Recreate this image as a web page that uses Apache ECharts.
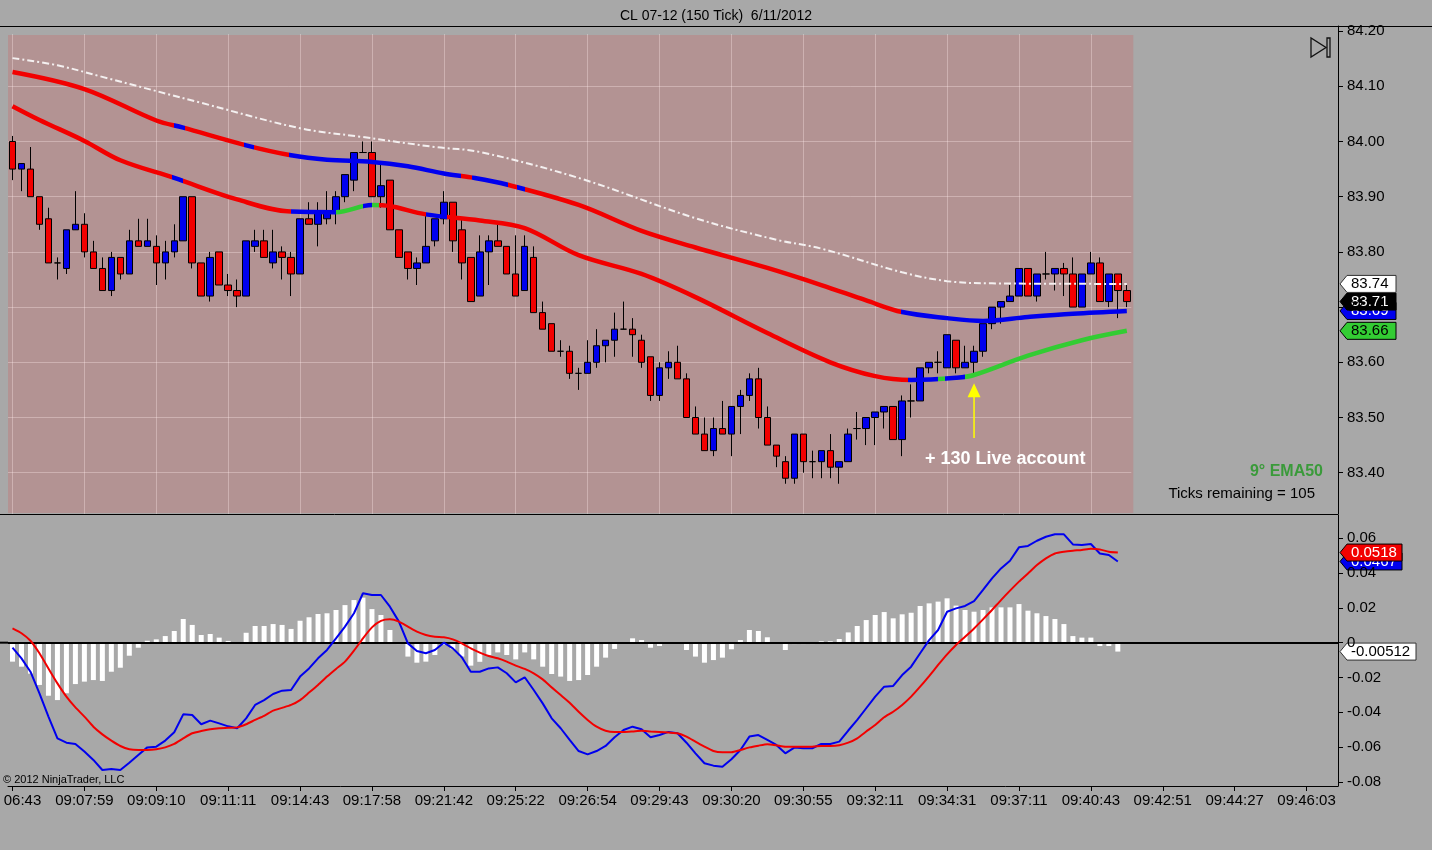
<!DOCTYPE html>
<html><head><meta charset="utf-8">
<script src="https://cdn.jsdelivr.net/npm/echarts@6/dist/echarts.min.js"></script>
<style>html,body{margin:0;padding:0;background:#a8a8a8;}#c{width:1432px;height:850px;}</style>
</head><body><div id="c"></div>
<script>
const FONT = "'Liberation Sans', Arial, sans-serif";

const titleText = 'CL 07-12 (150 Tick)  6/11/2012';
const timeLabels = ['06:43','09:07:59','09:09:10','09:11:11','09:14:43','09:17:58','09:21:42','09:25:22','09:26:54','09:29:43','09:30:20','09:30:55','09:32:11','09:34:31','09:37:11','09:40:43','09:42:51','09:44:27','09:46:03'];
const timeTickIdx = [0,8,16,24,32,40,48,56,64,72,80,88,96,104,112,120,128,136,144];
const priceTicks = [83.4,83.5,83.6,83.7,83.8,83.9,84.0,84.1,84.2];
const macdTicks = [-0.08,-0.06,-0.04,-0.02,0,0.02,0.04,0.06];

// [open, close, low, high]
const ohlc = [
[84.00,83.95,83.93,84.01],[83.95,83.96,83.91,83.96],[83.95,83.90,83.90,83.99],[83.90,83.85,83.84,83.90],[83.86,83.78,83.78,83.88],
[83.78,83.78,83.75,83.79],[83.77,83.84,83.76,83.84],[83.84,83.85,83.84,83.91],[83.85,83.80,83.79,83.87],[83.80,83.77,83.77,83.82],
[83.77,83.73,83.73,83.79],[83.73,83.79,83.72,83.80],[83.79,83.76,83.75,83.79],[83.76,83.82,83.76,83.84],[83.82,83.81,83.81,83.86],
[83.81,83.82,83.81,83.86],[83.81,83.78,83.74,83.83],[83.78,83.80,83.75,83.82],[83.80,83.82,83.79,83.85],[83.82,83.90,83.82,83.90],
[83.90,83.78,83.77,83.90],[83.78,83.72,83.72,83.78],[83.72,83.79,83.71,83.80],[83.80,83.74,83.74,83.80],[83.74,83.73,83.72,83.76],
[83.73,83.72,83.70,83.75],[83.72,83.82,83.72,83.82],[83.81,83.82,83.80,83.84],[83.82,83.79,83.79,83.84],[83.78,83.80,83.77,83.84],
[83.80,83.79,83.75,83.81],[83.79,83.76,83.72,83.80],[83.76,83.86,83.76,83.86],[83.86,83.85,83.85,83.89],[83.85,83.87,83.81,83.89],
[83.86,83.87,83.85,83.91],[83.87,83.90,83.85,83.91],[83.90,83.94,83.89,83.94],[83.93,83.98,83.91,83.98],[83.98,83.98,83.98,84.00],
[83.98,83.90,83.90,84.00],[83.90,83.92,83.88,83.96],[83.93,83.84,83.84,83.93],[83.84,83.79,83.79,83.84],[83.80,83.77,83.75,83.80],
[83.77,83.78,83.74,83.79],[83.78,83.81,83.78,83.87],[83.82,83.86,83.81,83.86],[83.86,83.89,83.85,83.91],[83.89,83.82,83.80,83.89],
[83.84,83.78,83.75,83.86],[83.79,83.71,83.71,83.79],[83.72,83.80,83.72,83.83],[83.80,83.82,83.74,83.83],[83.82,83.81,83.81,83.85],
[83.81,83.76,83.76,83.81],[83.76,83.72,83.72,83.83],[83.73,83.81,83.73,83.83],[83.79,83.69,83.69,83.81],[83.69,83.66,83.66,83.71],
[83.67,83.62,83.62,83.67],[83.62,83.62,83.61,83.64],[83.62,83.58,83.57,83.63],[83.58,83.58,83.55,83.59],[83.58,83.60,83.58,83.64],
[83.60,83.63,83.59,83.66],[83.63,83.64,83.60,83.64],[83.64,83.66,83.61,83.69],[83.66,83.66,83.66,83.71],[83.66,83.65,83.61,83.68],
[83.64,83.60,83.59,83.65],[83.61,83.54,83.53,83.61],[83.54,83.59,83.53,83.60],[83.59,83.60,83.57,83.62],[83.60,83.57,83.57,83.63],
[83.57,83.50,83.50,83.58],[83.50,83.47,83.47,83.52],[83.47,83.44,83.44,83.50],[83.44,83.48,83.43,83.50],[83.48,83.47,83.47,83.53],
[83.47,83.52,83.43,83.52],[83.52,83.54,83.47,83.55],[83.54,83.57,83.53,83.58],[83.57,83.50,83.48,83.59],[83.50,83.45,83.45,83.52],
[83.45,83.43,83.41,83.45],[83.42,83.39,83.38,83.43],[83.39,83.47,83.38,83.47],[83.47,83.42,83.40,83.47],[83.42,83.42,83.39,83.44],
[83.42,83.44,83.39,83.44],[83.44,83.41,83.39,83.47],[83.41,83.42,83.38,83.42],[83.42,83.47,83.42,83.48],[83.48,83.48,83.46,83.51],
[83.48,83.50,83.45,83.50],[83.50,83.51,83.45,83.51],[83.51,83.52,83.48,83.52],[83.52,83.46,83.46,83.52],[83.46,83.53,83.43,83.54],
[83.53,83.53,83.50,83.56],[83.53,83.59,83.53,83.59],[83.59,83.60,83.58,83.60],[83.60,83.60,83.58,83.62],[83.59,83.65,83.59,83.65],
[83.64,83.59,83.58,83.64],[83.59,83.60,83.59,83.63],[83.60,83.62,83.58,83.63],[83.62,83.67,83.61,83.67],[83.67,83.70,83.66,83.70],
[83.70,83.71,83.67,83.71],[83.71,83.72,83.71,83.74],[83.72,83.77,83.72,83.77],[83.77,83.72,83.72,83.77],[83.72,83.76,83.71,83.76],
[83.76,83.76,83.75,83.80],[83.76,83.77,83.73,83.77],[83.77,83.76,83.72,83.78],[83.76,83.70,83.70,83.79],[83.70,83.76,83.70,83.76],
[83.76,83.78,83.76,83.80],[83.78,83.71,83.71,83.79],[83.71,83.76,83.70,83.76],[83.76,83.73,83.68,83.76],[83.73,83.71,83.70,83.74]
];

// moving averages read at sampled bars: [barIndex, value]
const emaUpper = [[0,84.126],[8,84.095],[16,84.038],[19,84.025],[26,83.993],[31,83.975],[35,83.967],[40,83.963],[44,83.955],[48,83.942],[51,83.935],[55,83.922],[63,83.885],[70,83.838],[76,83.808],[84,83.771],[90,83.740],[95,83.712],[99,83.691],[104,83.680],[108,83.675],[113,83.682],[118,83.688],[124,83.693]];
const emaLower = [[0,84.064],[3,84.039],[8,84.001],[12,83.966],[18,83.934],[25,83.895],[31,83.873],[36,83.872],[40,83.885],[42,83.883],[46,83.868],[52,83.857],[57,83.843],[63,83.794],[70,83.760],[76,83.718],[84,83.653],[91,83.600],[96,83.575],[100,83.568],[105,83.572],[107,83.577],[113,83.612],[119,83.640],[124,83.657]];
const smaWhite = [[0,84.151],[5,84.138],[10,84.117],[21,84.070],[32,84.024],[39,84.008],[47,83.990],[52,83.981],[63,83.934],[76,83.861],[85,83.822],[90,83.806],[99,83.763],[104,83.747],[109,83.743],[124,83.742]];
// colour state changes: [fromBar, state]  d = falling, u = rising, g = turn signal
const upperStates = [[0,'d'],[18,'u'],[19.2,'d'],[25.8,'u'],[26.9,'d'],[30.8,'u'],[49.9,'d'],[51.1,'u'],[55.1,'d'],[56.1,'u'],[57,'d'],[98.9,'u']];
const lowerStates = [[0,'d'],[17.8,'u'],[19,'d'],[31,'u'],[36,'g'],[39,'u'],[40,'g'],[40.8,'d'],[46,'u'],[48.3,'d'],[99.7,'u'],[103,'g'],[103.8,'u'],[106,'g']];

const macdLine = [-0.0029,-0.0090,-0.0167,-0.0291,-0.0425,-0.0550,-0.0575,-0.0582,-0.0626,-0.0674,
-0.0732,-0.0726,-0.0732,-0.0690,-0.0646,-0.0602,-0.0598,-0.0563,-0.0515,-0.0412,
-0.0416,-0.0469,-0.0448,-0.0464,-0.0481,-0.0492,-0.0435,-0.0358,-0.0330,-0.0295,
-0.0276,-0.0272,-0.0195,-0.0148,-0.0090,-0.0042,0.0025,0.0092,0.0169,0.0284,
0.0274,0.0274,0.0207,0.0121,-0.0004,-0.0048,-0.0061,-0.0042,0.0000,-0.0033,
-0.0084,-0.0167,-0.0167,-0.0148,-0.0142,-0.0176,-0.0228,-0.0199,-0.0272,-0.0349,
-0.0435,-0.0492,-0.0559,-0.0623,-0.0642,-0.0623,-0.0594,-0.0544,-0.0502,-0.0483,
-0.0498,-0.0544,-0.0531,-0.0513,-0.0521,-0.0575,-0.0636,-0.0693,-0.0707,-0.0713,
-0.0670,-0.0617,-0.0540,-0.0531,-0.0559,-0.0588,-0.0636,-0.0603,-0.0607,-0.0607,
-0.0582,-0.0582,-0.0569,-0.0505,-0.0444,-0.0377,-0.0310,-0.0253,-0.0249,-0.0186,
-0.0138,-0.0061,0.0015,0.0073,0.0178,0.0197,0.0211,0.0239,0.0303,0.0370,
0.0427,0.0471,0.0548,0.0556,0.0586,0.0609,0.0623,0.0623,0.0565,0.0561,
0.0567,0.0513,0.0504,0.0467];
const signalLine = [0.0082,0.0054,0.0011,-0.0061,-0.0148,-0.0234,-0.0310,-0.0372,-0.0425,-0.0483,
-0.0527,-0.0563,-0.0594,-0.0613,-0.0617,-0.0617,-0.0613,-0.0602,-0.0582,-0.0550,
-0.0521,-0.0508,-0.0498,-0.0492,-0.0489,-0.0487,-0.0469,-0.0444,-0.0421,-0.0391,
-0.0375,-0.0358,-0.0330,-0.0287,-0.0243,-0.0195,-0.0151,-0.0109,-0.0046,0.0025,
0.0088,0.0125,0.0134,0.0121,0.0092,0.0063,0.0044,0.0034,0.0031,0.0019,
-0.0004,-0.0033,-0.0057,-0.0077,-0.0090,-0.0109,-0.0132,-0.0151,-0.0176,-0.0211,
-0.0257,-0.0301,-0.0345,-0.0397,-0.0444,-0.0483,-0.0506,-0.0513,-0.0513,-0.0510,
-0.0506,-0.0510,-0.0513,-0.0517,-0.0521,-0.0540,-0.0569,-0.0598,-0.0623,-0.0630,
-0.0630,-0.0617,-0.0602,-0.0592,-0.0584,-0.0590,-0.0598,-0.0598,-0.0598,-0.0598,
-0.0594,-0.0594,-0.0590,-0.0575,-0.0550,-0.0511,-0.0473,-0.0429,-0.0397,-0.0358,
-0.0310,-0.0253,-0.0192,-0.0128,-0.0067,-0.0013,0.0034,0.0082,0.0134,0.0188,
0.0245,0.0299,0.0351,0.0398,0.0446,0.0485,0.0513,0.0523,0.0529,0.0533,
0.0540,0.0536,0.0523,0.0518];
const macdHist = [-0.0109,-0.0138,-0.0178,-0.0243,-0.0305,-0.0330,-0.0291,-0.0238,-0.0224,-0.0215,
-0.0220,-0.0167,-0.0144,-0.0075,-0.0029,0.0011,0.0019,0.0038,0.0067,0.0136,
0.0102,0.0044,0.0050,0.0029,0.0010,0.0004,0.0057,0.0096,0.0096,0.0107,
0.0102,0.0079,0.0126,0.0146,0.0165,0.0169,0.0188,0.0216,0.0245,0.0259,
0.0193,0.0159,0.0073,-0.0008,-0.0080,-0.0115,-0.0109,-0.0071,-0.0013,-0.0038,
-0.0080,-0.0132,-0.0110,-0.0071,-0.0056,-0.0071,-0.0096,-0.0056,-0.0096,-0.0138,
-0.0180,-0.0195,-0.0220,-0.0215,-0.0186,-0.0138,-0.0086,-0.0036,0.0004,0.0025,
0.0015,-0.0029,-0.0019,-0.0002,-0.0002,-0.0042,-0.0080,-0.0115,-0.0100,-0.0086,
-0.0038,0.0015,0.0073,0.0067,0.0031,-0.0002,-0.0042,-0.0008,-0.0008,-0.0008,
0.0008,0.0008,0.0021,0.0059,0.0096,0.0130,0.0159,0.0176,0.0140,0.0163,
0.0172,0.0211,0.0226,0.0236,0.0255,0.0213,0.0188,0.0178,0.0188,0.0203,
0.0203,0.0203,0.0222,0.0184,0.0169,0.0153,0.0136,0.0107,0.0038,0.0029,
0.0029,-0.0019,-0.0019,-0.00512];

const tradeBar = 107;
const tradeArrow = [83.463, 83.562];

const RED = '#f20000', BLUE = '#0000ee', GREEN = '#33cc33';
const stateColor = {d: RED, u: BLUE, g: GREEN};
function pieces(states) {
  return states.map((s, k) => ({
    gte: k === 0 ? -100 : s[0],
    lt: k === states.length - 1 ? 1000 : states[k + 1][0],
    color: stateColor[s[1]]
  }));
}

const SLOTS = 148;
const PLOT_L = 8, AXIS_X = 1338;
const step = (AXIS_X - PLOT_L) / SLOTS;
const priceW = ohlc.length * step;

const chart = echarts.init(document.getElementById('c'), null, {renderer: 'canvas'});
const txt = {color: '#000', fontFamily: FONT, fontSize: 15};

chart.setOption({
  backgroundColor: '#a8a8a8',
  animation: false,
  title: {text: titleText, left: 'center', top: 4, textStyle: {color: '#000', fontFamily: FONT, fontSize: 14, fontWeight: 'normal'}},
  grid: [
    {left: PLOT_L, top: 26, width: priceW, height: 488},
    {left: PLOT_L, top: 515, width: AXIS_X - PLOT_L, height: 271}
  ],
  xAxis: [
    {type: 'value', gridIndex: 0, min: -0.5, max: ohlc.length - 0.5,
     axisLine: {show: false, onZero: false}, axisTick: {show: false, customValues: timeTickIdx}, axisLabel: {show: false, customValues: timeTickIdx},
     splitLine: {show: true, lineStyle: {color: 'rgba(255,235,235,0.35)', width: 1}}},
    {type: 'value', gridIndex: 1, min: -0.5, max: SLOTS - 0.5,
     axisLine: {show: true, onZero: false, lineStyle: {color: '#000', width: 1}},
     axisTick: {show: true, length: 5, customValues: timeTickIdx, lineStyle: {color: '#000'}},
     axisLabel: Object.assign({customValues: timeTickIdx, margin: 7,
        formatter: v => { const k = timeTickIdx.indexOf(Math.round(v)); const s = k >= 0 ? timeLabels[k] : ''; return k === 0 ? '{f|' + s + '}' : s; },
        rich: {f: {padding: [0, 0, 0, 20], color: '#000', fontFamily: FONT, fontSize: 15}}}, txt),
     splitLine: {show: false}}
  ],
  yAxis: [
    {type: 'value', gridIndex: 0, position: 'right', offset: AXIS_X - (PLOT_L + priceW), min: 83.3252, max: 84.2092,
     axisLine: {show: true, onZero: false, lineStyle: {color: '#000'}},
     axisTick: {show: true, length: 5, customValues: priceTicks, lineStyle: {color: '#000'}},
     axisLabel: Object.assign({customValues: priceTicks, margin: 9, formatter: v => v.toFixed(2)}, txt),
     splitLine: {show: true, lineStyle: {color: 'rgba(255,235,235,0.35)', width: 1}}},
    {type: 'value', gridIndex: 1, position: 'right', min: -0.0824, max: 0.0734,
     axisLine: {show: true, onZero: false, lineStyle: {color: '#000'}},
     axisTick: {show: true, length: 5, customValues: macdTicks, lineStyle: {color: '#000'}},
     axisLabel: Object.assign({customValues: macdTicks, margin: 9, formatter: v => Math.abs(v) < 1e-9 ? '0' : v.toFixed(2)}, txt),
     splitLine: {show: false}}
  ],
  visualMap: [
    {show: false, type: 'piecewise', seriesIndex: 1, dimension: 0, pieces: pieces(upperStates)},
    {show: false, type: 'piecewise', seriesIndex: 2, dimension: 0, pieces: pieces(lowerStates)}
  ],
  series: [
    {type: 'candlestick', xAxisIndex: 0, yAxisIndex: 0, z: 3,
     data: ohlc.map((r, i) => [i, r[0], r[1], r[2], r[3]]),
     encode: {x: 0, y: [1, 2, 3, 4]},
     barWidth: 7,
     itemStyle: {color: BLUE, color0: RED, borderColor: '#000', borderColor0: '#000', borderColorDoji: '#000', borderWidth: 1}},
    {type: 'line', xAxisIndex: 0, yAxisIndex: 0, z: 5, data: emaUpper, smooth: 0.35, showSymbol: false, symbol: 'none',
     lineStyle: {width: 4.5}},
    {type: 'line', xAxisIndex: 0, yAxisIndex: 0, z: 5, data: emaLower, smooth: 0.35, showSymbol: false, symbol: 'none',
     lineStyle: {width: 4.5}},
    {type: 'line', xAxisIndex: 0, yAxisIndex: 0, z: 4, data: smaWhite, smooth: 0.35, showSymbol: false, symbol: 'none',
     lineStyle: {width: 2, color: '#f4f0f0', type: [7, 3, 2, 3]}},
    {type: 'bar', xAxisIndex: 1, yAxisIndex: 1, z: 3, barWidth: 5,
     data: macdHist.map((v, i) => [i, v]), itemStyle: {color: '#ffffff'},
     markLine: {silent: true, symbol: 'none', label: {show: false}, lineStyle: {color: '#000', width: 2, type: 'solid'}, data: [{yAxis: 0}]}},
    {type: 'line', xAxisIndex: 1, yAxisIndex: 1, z: 5, data: macdLine.map((v, i) => [i, v]), showSymbol: false, symbol: 'none',
     lineStyle: {width: 2, color: BLUE}},
    {type: 'line', xAxisIndex: 1, yAxisIndex: 1, z: 5, data: signalLine.map((v, i) => [i, v]), showSymbol: false, symbol: 'none', smooth: 0.2,
     lineStyle: {width: 2, color: RED}}
  ]
});

// ---- decorations positioned through the chart's own scales ----
function flag(id, yPix, w, text, fill, textFill, stroke) {
  const h = 8.5;
  return {type: 'group', id: id, x: AXIS_X + 2, y: yPix, z: 100, children: [
    {type: 'polygon', shape: {points: [[0, 0], [7, -h], [w, -h], [w, h], [7, h]]}, style: {fill: fill, stroke: stroke, lineWidth: 1}},
    {type: 'text', x: 11, y: 0, style: {text: text, fill: textFill, font: '15px ' + FONT, verticalAlign: 'middle', textAlign: 'left'}}
  ]};
}
const py = v => chart.convertToPixel({yAxisIndex: 0}, v);
const my = v => chart.convertToPixel({yAxisIndex: 1}, v);
const lastClose = ohlc[ohlc.length - 1][1];
const lastUpper = emaUpper[emaUpper.length - 1][1];
const lastLower = emaLower[emaLower.length - 1][1];
const lastWhite = smaWhite[smaWhite.length - 1][1];
const lastMacd = macdLine[macdLine.length - 1];
const lastSig = signalLine[signalLine.length - 1];
const lastHist = macdHist[macdHist.length - 1];

const tip = chart.convertToPixel({gridIndex: 0}, [tradeBar, tradeArrow[1]]);
const tail = chart.convertToPixel({gridIndex: 0}, [tradeBar, tradeArrow[0]]);

const elements = [
  {type: 'rect', id: 'pink', z: -1, shape: {x: PLOT_L, y: 35, width: priceW + 2, height: 478}, style: {fill: '#b39393'}},
  {type: 'rect', id: 'strip', z: 1, shape: {x: 0, y: 27, width: AXIS_X - 1, height: 7}, style: {fill: '#a8a8a8'}},
  {type: 'line', id: 'topline', z: 50, shape: {x1: 0, y1: 26.5, x2: 1432, y2: 26.5}, style: {stroke: '#000', lineWidth: 1}},
  {type: 'line', id: 'midline', z: 50, shape: {x1: 0, y1: 514.5, x2: AXIS_X, y2: 514.5}, style: {stroke: '#000', lineWidth: 1}},
  {type: 'line', id: 'zl', z: 50, shape: {x1: 0, y1: my(0), x2: PLOT_L, y2: my(0)}, style: {stroke: '#000', lineWidth: 2}},
  // play-to-end icon
  {type: 'polygon', id: 'ic1', z: 50, shape: {points: [[1311, 38], [1311, 57], [1326, 47.5]]}, style: {fill: 'none', stroke: '#111', lineWidth: 1.3}},
  {type: 'rect', id: 'ic2', z: 50, shape: {x: 1327, y: 38, width: 3, height: 19}, style: {fill: 'none', stroke: '#111', lineWidth: 1.3}},
  // trade annotation
  {type: 'line', id: 'arrowline', z: 60, shape: {x1: tail[0], y1: tail[1], x2: tip[0], y2: tip[1] + 10}, style: {stroke: '#ffff00', lineWidth: 1.5}},
  {type: 'polygon', id: 'arrowhead', z: 60, shape: {points: [[tip[0], tip[1]], [tip[0] - 6.5, tip[1] + 14], [tip[0] + 6.5, tip[1] + 14]]}, style: {fill: '#ffff00'}},
  {type: 'text', id: 'live', z: 60, x: 925, y: 459, style: {text: '+ 130 Live account', fill: '#ffffff', font: 'bold 18px ' + FONT, verticalAlign: 'middle'}},
  {type: 'text', id: 'ema50', z: 60, x: 1323, y: 472, style: {text: '9° EMA50', fill: '#3a9a3a', font: 'bold 16px ' + FONT, textAlign: 'right', verticalAlign: 'middle'}},
  {type: 'text', id: 'ticks', z: 60, x: 1315, y: 494, style: {text: 'Ticks remaining = 105', fill: '#000', font: '15px ' + FONT, textAlign: 'right', verticalAlign: 'middle'}},
  {type: 'text', id: 'copy', z: 60, x: 3, y: 780, style: {text: '© 2012 NinjaTrader, LLC', fill: '#000', font: '11px ' + FONT, verticalAlign: 'middle'}},
  // value flags
  flag('fBlue', py(lastUpper), 56, lastUpper.toFixed(2), BLUE, '#ffffff', '#000'),
  flag('fBlack', py(lastClose), 56, lastClose.toFixed(2), '#000000', '#ffffff', '#000'),
  flag('fWhite', py(lastWhite), 56, lastWhite.toFixed(2), '#ffffff', '#000000', '#333'),
  flag('fGreen', py(lastLower), 56, lastLower.toFixed(2), GREEN, '#000000', '#000'),
  flag('mBlue', my(lastMacd), 62, lastMacd.toFixed(4), BLUE, '#ffffff', '#000'),
  flag('mRed', my(lastSig), 62, lastSig.toFixed(4), RED, '#ffffff', '#000'),
  flag('mWhite', my(lastHist), 76, lastHist.toFixed(5), '#ffffff', '#000000', '#333')
];
chart.setOption({graphic: {elements: elements}});
</script>
</body></html>
